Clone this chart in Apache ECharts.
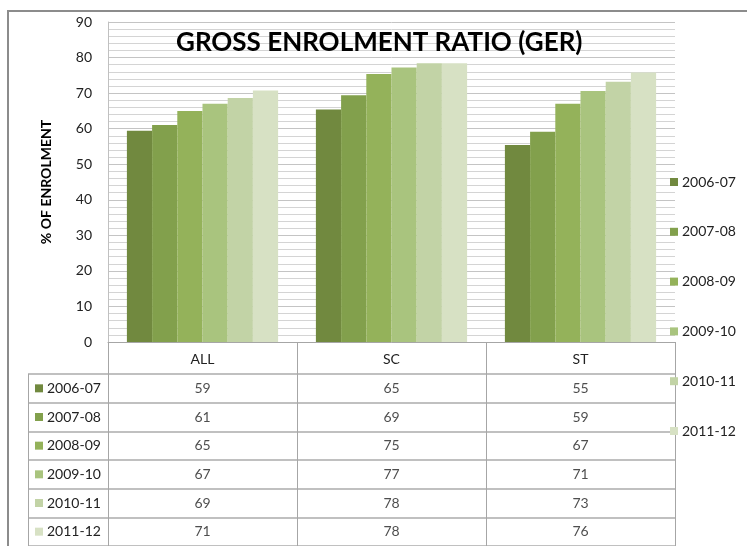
<!DOCTYPE html>
<html>
<head>
<meta charset="utf-8">
<script src="https://cdn.jsdelivr.net/npm/echarts@6/dist/echarts.min.js"></script>
<style>html,body{margin:0;padding:0;background:#fff}#c{width:747px;height:546px}</style>
</head>
<body>
<div id="c"></div>
<script>
const categories = ['ALL', 'SC', 'ST'];
const seriesNames = ['2006-07', '2007-08', '2008-09', '2009-10', '2010-11', '2011-12'];
const v2006_07 = [59.4, 65.4, 55.4];
const v2007_08 = [61.0, 69.4, 59.1];
const v2008_09 = [65.0, 75.4, 67.0];
const v2009_10 = [67.0, 77.2, 70.6];
const v2010_11 = [68.6, 78.4, 73.2];
const v2011_12 = [70.7, 78.4, 75.8];
const yTickMin = 0, yTickMax = 90, yTickStep = 10;
const colors = ['#71893F', '#82A04C', '#94B25A', '#A9C47E', '#C2D3A6', '#D7E1C4'];

const allValues = [v2006_07, v2007_08, v2008_09, v2009_10, v2010_11, v2011_12];
const FONT = 'Lato, "Open Sans", sans-serif';

const barSeries = seriesNames.map((name, i) => ({
  name: name,
  type: 'bar',
  xAxisIndex: 0,
  yAxisIndex: 0,
  data: allValues[i],
  barGap: '0%',
  barCategoryGap: '20%',
  itemStyle: { color: colors[i] },
  emphasis: { disabled: true }
}));

const tableData = [];
seriesNames.forEach((name, i) => {
  categories.forEach((cat, j) => {
    tableData.push([cat, name, allValues[i][j]]);
  });
});

const rich = { t: { fontSize: 14, color: '#222', fontFamily: FONT, padding: [0, 0, 0, 4] } };
colors.forEach((c, i) => { rich['s' + i] = { width: 8, height: 8, backgroundColor: c }; });

const rowH = 29.6;
const option = {
  animation: false,
  color: colors,
  textStyle: { fontFamily: FONT },
  graphic: [{
    type: 'rect', z: -10, silent: true,
    shape: { x: 8, y: 11, width: 800, height: 600 },
    style: { fill: 'none', stroke: '#8c8c8c', lineWidth: 2 }
  }],
  title: {
    text: 'GROSS ENROLMENT RATIO (GER)',
    left: 176, top: 30,
    padding: 0,
    textStyle: { fontFamily: FONT, fontWeight: 'bold', fontSize: 26, color: '#000' }
  },
  legend: {
    data: seriesNames,
    orient: 'vertical',
    left: 670, top: 174,
    padding: 0,
    itemWidth: 8, itemHeight: 8,
    itemGap: 33.8,
    icon: 'rect',
    selectedMode: false,
    textStyle: { fontSize: 14, color: '#222', lineHeight: 16, fontFamily: FONT, padding: [0, 0, 0, -1] }
  },
  grid: [
    { left: 108, top: 22, width: 567, height: 320 },
    { left: 108, top: 374, width: 567, height: rowH * 6 },
    { left: 28, top: 374, width: 80, height: rowH * 6 }
  ],
  xAxis: [
    {
      type: 'category', gridIndex: 0, data: categories,
      axisLine: { show: true, lineStyle: { color: '#a6a6a6', width: 1 } },
      axisTick: { show: true, length: 32, lineStyle: { color: '#a6a6a6' } },
      axisLabel: { margin: 10, fontSize: 14, color: '#222', fontFamily: FONT },
      splitLine: { show: false }
    },
    {
      type: 'category', gridIndex: 1, data: categories,
      axisLine: { show: false }, axisTick: { show: false }, axisLabel: { show: false },
      splitLine: { show: true, lineStyle: { color: '#a6a6a6', width: 1 } }
    },
    {
      type: 'category', gridIndex: 2, data: [''],
      axisLine: { show: false }, axisTick: { show: false }, axisLabel: { show: false },
      splitLine: { show: true, lineStyle: { color: '#a6a6a6', width: 1 } }
    }
  ],
  yAxis: [
    {
      type: 'value', gridIndex: 0, min: yTickMin, max: yTickMax, interval: yTickStep,
      name: '% OF ENROLMENT', nameLocation: 'middle', nameRotate: 90, nameGap: 55,
      nameTextStyle: { fontWeight: 'bold', fontSize: 14, color: '#000', fontFamily: FONT },
      axisLine: { show: true, lineStyle: { color: '#c0c0c0' } },
      axisTick: { show: false },
      axisLabel: { margin: 16, fontSize: 14, color: '#222', fontFamily: FONT },
      splitLine: { show: true, lineStyle: { color: '#c4c4c4', width: 1 } },
      minorTick: { show: false, splitNumber: 5 },
      minorSplitLine: { show: true, lineStyle: { color: '#d4d4d4', width: 1 } }
    },
    {
      type: 'category', gridIndex: 1, data: seriesNames, inverse: true,
      axisLine: { show: true, lineStyle: { color: '#a6a6a6' } },
      axisTick: { show: false }, axisLabel: { show: false },
      splitLine: { show: true, lineStyle: { color: '#c0c0c0', width: 2 } }
    },
    {
      type: 'category', gridIndex: 2, data: seriesNames, inverse: true,
      axisLine: { show: false }, axisTick: { show: false },
      axisLabel: {
        inside: true, margin: 7,
        formatter: (value, index) => '{s' + index + '|}{t|' + value + '}',
        rich: rich
      },
      splitLine: { show: true, lineStyle: { color: '#c0c0c0', width: 2 } }
    }
  ],
  series: barSeries.concat([{
    type: 'scatter',
    xAxisIndex: 1, yAxisIndex: 1,
    symbolSize: 0,
    data: tableData,
    silent: true,
    label: {
      show: true, position: 'inside',
      formatter: p => String(Math.round(p.value[2])),
      fontSize: 14, color: '#222', fontFamily: FONT
    }
  }])
};

const chart = echarts.init(document.getElementById('c'), null, { renderer: 'canvas' });
chart.setOption(option);
</script>
</body>
</html>
